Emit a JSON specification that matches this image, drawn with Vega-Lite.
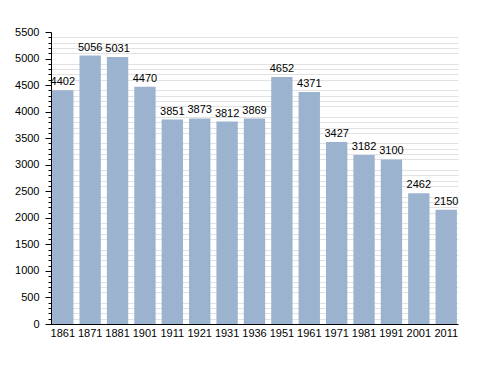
{
  "$schema": "https://vega.github.io/schema/vega-lite/v6.json",
  "width": 407,
  "height": 292,
  "autosize": "none",
  "padding": {"left": 51, "top": 32, "right": 30, "bottom": 49},
  "background": "white",
  "config": {"view": {"stroke": null}, "font": "Liberation Sans"},
  "data": {"values": [
    {"year": "1861", "pop": 4402},
    {"year": "1871", "pop": 5056},
    {"year": "1881", "pop": 5031},
    {"year": "1901", "pop": 4470},
    {"year": "1911", "pop": 3851},
    {"year": "1921", "pop": 3873},
    {"year": "1931", "pop": 3812},
    {"year": "1936", "pop": 3869},
    {"year": "1951", "pop": 4652},
    {"year": "1961", "pop": 4371},
    {"year": "1971", "pop": 3427},
    {"year": "1981", "pop": 3182},
    {"year": "1991", "pop": 3100},
    {"year": "2001", "pop": 2462},
    {"year": "2011", "pop": 2150}
  ]},
  "encoding": {
    "x": {"field": "year", "type": "nominal", "sort": null,
      "scale": {"paddingInner": 0.22, "paddingOuter": 0.04},
      "axis": {"title": null, "labelAngle": 0, "labelFont": "Liberation Sans", "labelFontSize": 11, "labelColor": "#000", "domainColor": "#000", "ticks": false, "labelPadding": 3}}
  },
  "layer": [
    {
      "mark": {"type": "rule", "opacity": 0},
      "encoding": {
        "y": {"field": "pop", "type": "quantitative", "scale": {"domain": [0, 5500], "nice": false},
          "axis": {"orient": "left", "title": null, "values": [0,100,200,300,400,600,700,800,900,1100,1200,1300,1400,1600,1700,1800,1900,2100,2200,2300,2400,2600,2700,2800,2900,3100,3200,3300,3400,3600,3700,3800,3900,4100,4200,4300,4400,4600,4700,4800,4900,5100,5200,5300,5400],
            "labels": false, "domain": false, "gridColor": "#e2e2e2", "gridWidth": 1, "tickColor": "#000", "tickSize": 3}}
      }
    },
    {
      "mark": {"type": "bar", "color": "#9bb3cf"},
      "encoding": {
        "y": {"field": "pop", "type": "quantitative",
          "axis": {"orient": "left", "title": null, "format": "d", "values": [0,500,1000,1500,2000,2500,3000,3500,4000,4500,5000,5500],
            "labelFont": "Liberation Sans", "labelFontSize": 11, "labelColor": "#000", "domainColor": "#000", "gridColor": "#b5b5b5", "tickColor": "#000", "tickSize": 6, "labelPadding": 6}}
      }
    },
    {
      "mark": {"type": "text", "baseline": "bottom", "dy": -3, "font": "Liberation Sans", "fontSize": 11, "color": "#000"},
      "encoding": {
        "y": {"field": "pop", "type": "quantitative", "axis": null},
        "text": {"field": "pop", "type": "quantitative", "format": "d"}
      }
    }
  ],
  "resolve": {"axis": {"y": "independent"}}
}
